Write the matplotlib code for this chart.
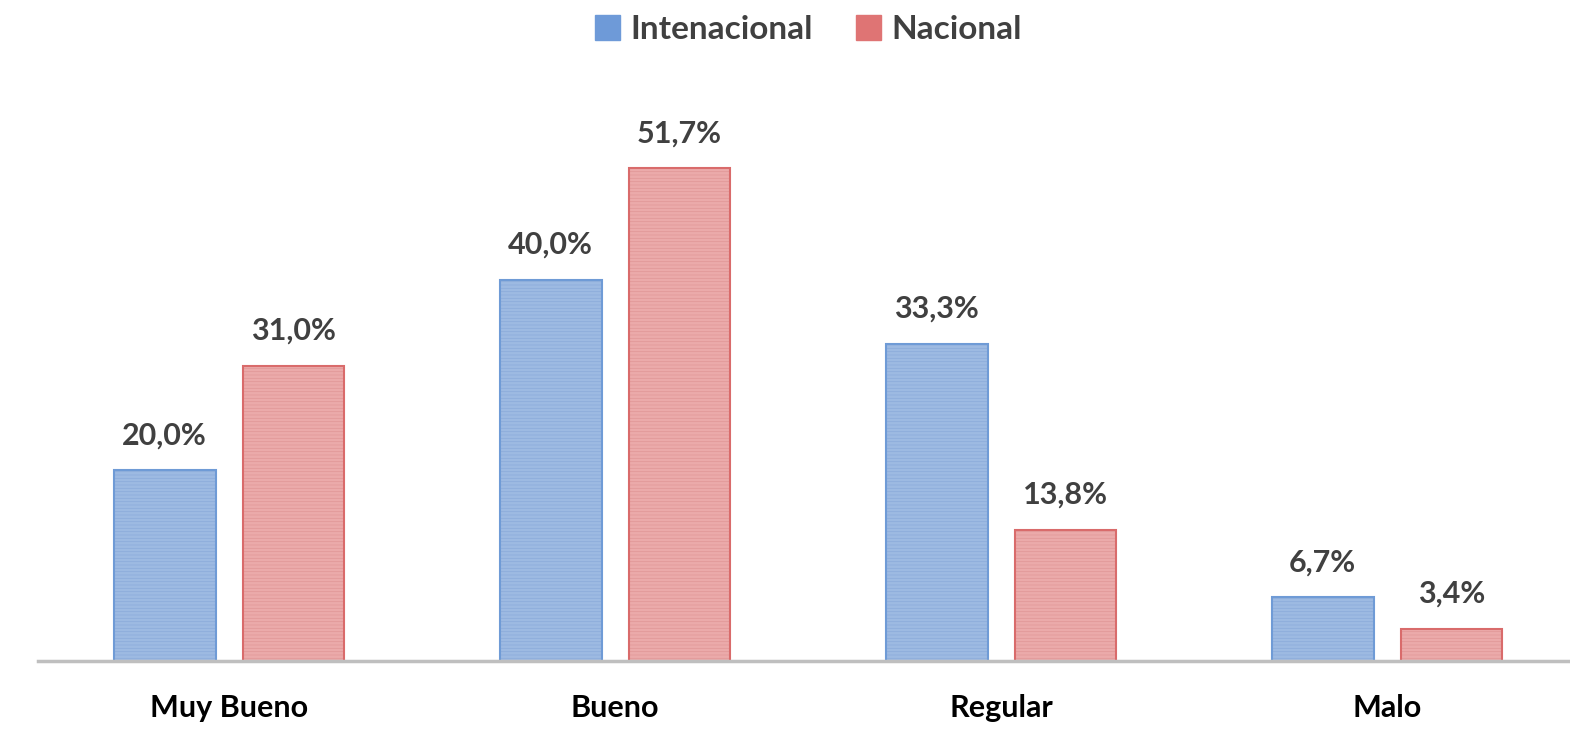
import matplotlib
matplotlib.use("Agg")
import matplotlib.pyplot as plt
import numpy as np
from matplotlib.patches import Patch

categories = ["Muy Bueno", "Bueno", "Regular", "Malo"]
internacional = [20.0, 40.0, 33.3, 6.7]
nacional = [31.0, 51.7, 13.8, 3.4]
series_names = ["Intenacional", "Nacional"]

plt.rcParams['font.family'] = ['Lato', 'DejaVu Sans']
plt.rcParams['hatch.linewidth'] = 0.5

fig = plt.figure(figsize=(15.7, 7.42), dpi=100)
ax = fig.add_axes([0.0242, 0.109, 0.9758, 0.771])

x = np.arange(len(categories))
w = 0.264
off = 0.167

styles = [
    (x - off, internacional, "#9DBAE2", "#8BAADA", "#6F9BD6"),
    (x + off, nacional, "#EBAAAA", "#E09696", "#D96B6B"),
]

for xs, vals, fill, stripe, edge in styles:
    # striped body
    ax.bar(xs, vals, w, color=fill, edgecolor=stripe, linewidth=0, hatch='-----')
    # outline
    ax.bar(xs, vals, w, fill=False, edgecolor=edge, linewidth=1.5)

def fmt(v):
    return f"{v:.1f}".replace(".", ",") + "%"

for xs, vals, *_ in styles:
    for xi, v in zip(xs, vals):
        ax.text(xi, v + 2.2, fmt(v), ha="center", va="bottom",
                fontsize=22, fontweight="bold", color="#404040")

ax.set_xlim(-0.495, 3.474)
ax.set_ylim(0, 60)
ax.set_xticks(x)
ax.set_xticklabels(categories, fontsize=22, fontweight="bold", color="black")
ax.tick_params(axis="x", length=0, pad=24)
ax.set_yticks([])
for s in ("top", "right", "left"):
    ax.spines[s].set_visible(False)
ax.spines["bottom"].set_color("#BFBFBF")
ax.spines["bottom"].set_linewidth(2.5)

handles = [Patch(facecolor="#6E9AD8", edgecolor="#6E9AD8"),
           Patch(facecolor="#DF7474", edgecolor="#DF7474")]
fig.legend(handles, series_names, loc="upper center", bbox_to_anchor=(0.515, 1.02),
           ncol=2, frameon=False, prop={"size": 24, "weight": "bold"},
           labelcolor="#404040", handlelength=0.75, handleheight=0.75,
           handletextpad=0.3, columnspacing=1.3)

fig.savefig("out.png", dpi=100, facecolor="white")
